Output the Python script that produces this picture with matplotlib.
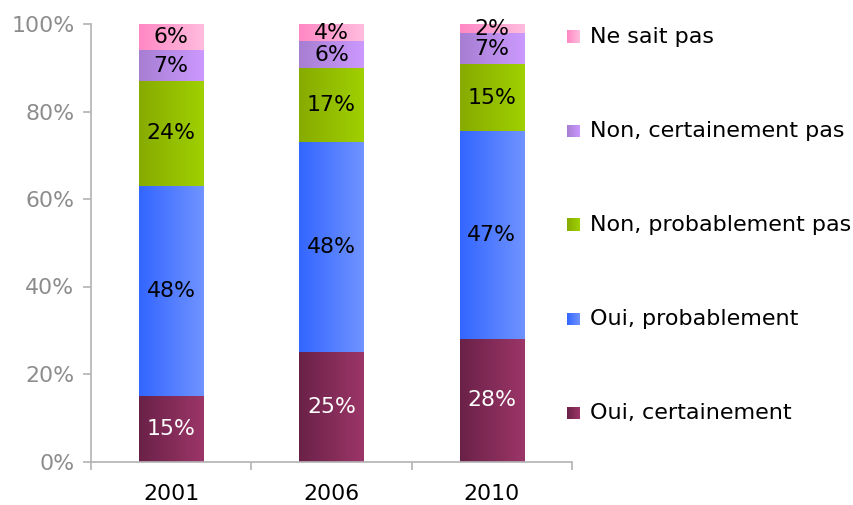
import numpy as np
import matplotlib
matplotlib.use("Agg")
import matplotlib.pyplot as plt
from matplotlib.colors import LinearSegmentedColormap

# data (percent)
years = ["2001", "2006", "2010"]
categories = ["Oui, certainement", "Oui, probablement", "Non, probablement pas",
              "Non, certainement pas", "Ne sait pas"]
oui_cert = [15, 25, 28.1]
oui_prob = [48, 48, 47.4]
non_prob = [24, 17, 15.3]
non_cert = [7, 6, 7.1]
ne_sait = [6, 4, 2.1]
series = [oui_cert, oui_prob, non_prob, non_cert, ne_sait]

# gradient colours: dark left -> light right
grads = [("#6a2148", "#9c3668"),
         ("#3366ff", "#7093ff"),
         ("#87ab00", "#9fd000"),
         ("#a67ed2", "#cc99ff"),
         ("#ff88c4", "#ffbcdd")]
text_colors = ["white", "black", "black", "black", "black"]

plt.rcParams["font.family"] = ["DejaVu Sans"]
FS = 15.8

fig = plt.figure(figsize=(8.54, 5.05), dpi=100)
ax = fig.add_axes([91 / 854, 1 - 461.5 / 505, (572 - 91) / 854, (461.5 - 24) / 505])

x = np.arange(len(years))
width = 0.4
grad = np.linspace(0, 1, 256).reshape(1, -1)
bottom = np.zeros(len(years))

for vals, (c0, c1), tc in zip(series, grads, text_colors):
    cmap = LinearSegmentedColormap.from_list("g", [c0, c1])
    bars = ax.bar(x, vals, width, bottom=bottom, color="none", edgecolor="none")
    for b, v in zip(bars, vals):
        x0, y0 = b.get_x(), b.get_y()
        ax.imshow(grad, cmap=cmap, aspect="auto", interpolation="bilinear",
                  extent=[x0, x0 + b.get_width(), y0, y0 + b.get_height()], zorder=2)
        ax.text(x0 + b.get_width() / 2, y0 + b.get_height() / 2, f"{round(v)}%",
                ha="center", va="center", fontsize=FS, color=tc, zorder=3)
    bottom += np.array(vals)

ax.set_xlim(-0.5, len(years) - 0.5)
ax.set_ylim(0, 100)

# axes styling
for s in ["top", "right"]:
    ax.spines[s].set_visible(False)
for s in ["left", "bottom"]:
    ax.spines[s].set_color("#b3b3b3")
    ax.spines[s].set_linewidth(1.2)

ax.set_yticks(np.arange(0, 101, 20))
ax.set_yticklabels([f"{v}%" for v in range(0, 101, 20)])
ax.tick_params(axis="y", colors="#b3b3b3", labelcolor="#8c8c8c", labelsize=FS,
               length=6, width=1.2, pad=6)
ax.set_xticks(x)
ax.set_xticklabels(years)
ax.tick_params(axis="x", which="major", length=0, labelsize=FS, pad=16)
ax.set_xticks(np.arange(-0.5, len(years), 1), minor=True)
ax.tick_params(axis="x", which="minor", length=6, width=1.2, color="#b3b3b3")

# legend drawn manually (top entry first)
W, H = 854, 505
for i, (lab, (c0, c1)) in enumerate(zip(categories[::-1], grads[::-1])):
    ypix = 37 + 94 * i
    sq = 13
    cmap = LinearSegmentedColormap.from_list("g", [c0, c1])
    lax = fig.add_axes([567 / W, 1 - (ypix + sq / 2) / H, sq / W, sq / H])
    lax.imshow(grad, cmap=cmap, aspect="auto")
    lax.axis("off")
    fig.text(590 / W, 1 - ypix / H, lab, ha="left", va="center", fontsize=16)

fig.savefig("out.png", dpi=100)
